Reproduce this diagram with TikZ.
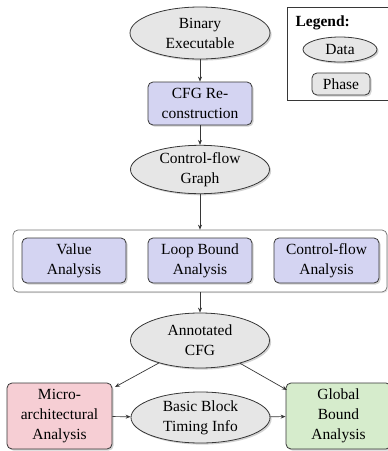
\documentclass[tikz,border=0pt]{standalone}
\usepackage{fontspec}
\setmainfont{Liberation Serif}
\usetikzlibrary{arrows.meta,shapes.geometric,shadows}
\definecolor{datagray}{RGB}{230,230,230}
\definecolor{phasepurple}{RGB}{212,212,242}
\definecolor{micropink}{RGB}{246,206,212}
\definecolor{globalgreen}{RGB}{214,236,204}
\definecolor{linegray}{RGB}{55,55,55}
\begin{document}
\begin{tikzpicture}[x=1pt,y=-1pt,
  font=\fontsize{15.5}{20}\selectfont,
  shade/.style={drop shadow={shadow xshift=1.6pt,shadow yshift=-1.6pt,fill=black!35}},
  datanode/.style={ellipse,draw=linegray,line width=0.8pt,fill=datagray,inner sep=0pt,align=center,shade},
  phasenode/.style={rectangle,rounded corners=5pt,draw=linegray,line width=0.8pt,fill=phasepurple,inner sep=0pt,align=center,shade},
  flow/.style={-{Stealth[length=5pt,width=4pt]},draw=linegray,line width=0.7pt}]
\useasboundingbox (0,0) rectangle (388,451);
% legend
\node[draw=linegray,line width=0.8pt,fill=white,minimum width=106pt,minimum height=93pt,inner sep=0pt] (legend) at (340,53.5) {};
\node[anchor=base west,font=\fontsize{15.5}{20}\selectfont\bfseries] (legtitle) at (292,26) {Legend:};
\node[datanode,minimum width=74pt,minimum height=25pt] (legdata) at (340,49.5) {Data};
\node[phasenode,fill=datagray,minimum width=58pt,minimum height=22pt] (legphase) at (341,84) {Phase};
% main flow
\node[datanode,minimum width=140pt,minimum height=52pt] (bin) at (200,33) {Binary\\Executable};
\node[phasenode,minimum width=104pt,minimum height=43pt] (cfgr) at (200,103.5) {CFG Re-\\construction};
\node[datanode,minimum width=139pt,minimum height=45pt] (cfg) at (200,169.5) {Control-flow\\Graph};
\node[rectangle,rounded corners=5pt,draw=black!55,line width=0.7pt,fill=white,minimum width=374pt,minimum height=62pt,inner sep=0pt,drop shadow={shadow xshift=1.2pt,shadow yshift=-1.2pt,fill=black!20}] (cont) at (200,261) {};
\node[phasenode,minimum width=104pt,minimum height=45pt] (val) at (74,260.5) {Value\\Analysis};
\node[phasenode,minimum width=104pt,minimum height=45pt] (loop) at (200,260.5) {Loop Bound\\Analysis};
\node[phasenode,minimum width=105pt,minimum height=45pt] (cfa) at (326.5,260.5) {Control-flow\\Analysis};
\node[datanode,minimum width=139pt,minimum height=55pt] (annot) at (200,340.5) {Annotated\\CFG};
\node[phasenode,fill=micropink,minimum width=105pt,minimum height=66pt] (micro) at (59.5,416) {Micro-\\architectural\\Analysis};
\node[datanode,minimum width=139pt,minimum height=51pt] (bbti) at (200.5,417.5) {Basic Block\\Timing Info};
\node[phasenode,fill=globalgreen,minimum width=105pt,minimum height=66pt] (glob) at (338.5,416) {Global\\Bound\\Analysis};
\coordinate (mtip) at (115,387);
\coordinate (gtip) at (287,390);
% connectors
\draw[flow] (bin) -- (cfgr);
\draw[flow] (cfgr) -- (cfg);
\draw[flow] (cfg) -- (cont);
\draw[flow] (cont) -- (annot);
\draw[flow] (annot) -- (mtip);
\draw[flow] (annot) -- (gtip);
\draw[flow] (micro) -- (bbti);
\draw[flow] (bbti) -- (glob);
\end{tikzpicture}
\end{document}
